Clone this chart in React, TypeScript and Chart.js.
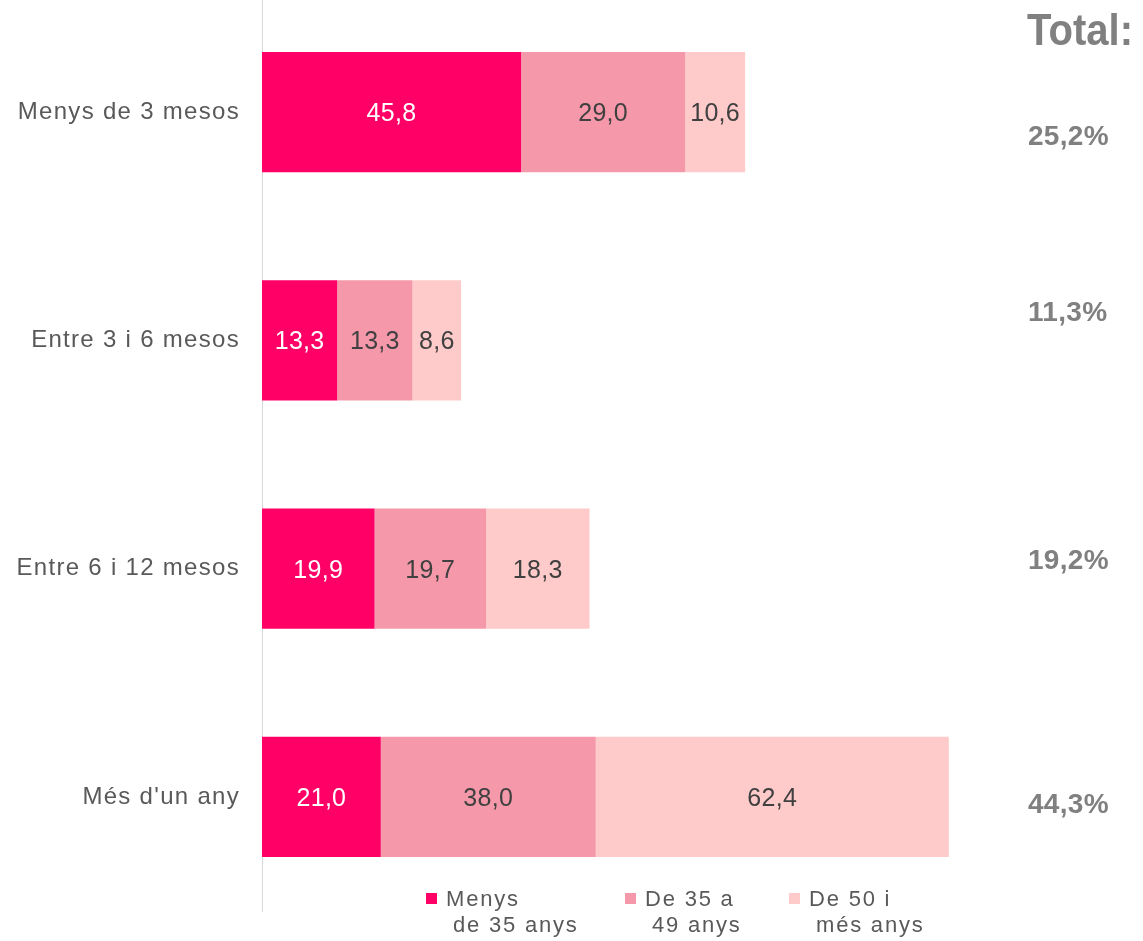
import React, { useEffect, useRef } from "react";
import { Chart, registerables } from "chart.js";

Chart.register(...registerables);

// ---- data ----
const CATEGORIES = ["Menys de 3 mesos", "Entre 3 i 6 mesos", "Entre 6 i 12 mesos", "Més d'un any"];
const SERIES_LABELS = [
  ["Menys", "de 35 anys"],
  ["De 35 a", "49 anys"],
  ["De 50 i", "més anys"],
];
const UNDER_35 = [45.8, 13.3, 19.9, 21.0];
const FROM_35_TO_49 = [29.0, 13.3, 19.7, 38.0];
const FROM_50 = [10.6, 8.6, 18.3, 62.4];
const TOTAL_TITLE = "Total:";
const TOTALS = [25.2, 11.3, 19.2, 44.3];

// ---- styles / layout ----
const COLORS = ["#FF0066", "#F599AA", "#FFCACA"];
const LABEL_COLORS = ["#FFFFFF", "#404040", "#404040"];
const TEXT_GREY = "#595959";
const TOTAL_GREY = "#808080";
const FONT = '"Liberation Sans", Arial, sans-serif';
const TOTAL_Y_OFFSETS = [23, -29, -10, 6];
const LEGEND_X = [426, 625, 789];
const SHIFT = 2; // canvas is placed 2px above the page top

const fmt = (v: number) => v.toFixed(1).replace(".", ",");

const letterSpacingPlugin = {
  id: "letterSpacing",
  beforeDraw(chart: any) {
    chart.ctx.letterSpacing = "1.3px";
  },
  beforeDatasetsDraw(chart: any) {
    chart.ctx.letterSpacing = "0px";
  },
};

const valueLabelsPlugin = {
  id: "valueLabels",
  afterDatasetsDraw(chart: any) {
    const ctx = chart.ctx;
    ctx.save();
    ctx.font = `25px ${FONT}`;
    ctx.letterSpacing = "0.3px";
    ctx.textAlign = "center";
    ctx.textBaseline = "alphabetic";
    chart.data.datasets.forEach((ds: any, di: number) => {
      const meta = chart.getDatasetMeta(di);
      meta.data.forEach((el: any, i: number) => {
        const { x, base, y } = el.getProps(["x", "base", "y"], true);
        ctx.fillStyle = LABEL_COLORS[di];
        ctx.fillText(fmt(ds.data[i]), (x + base) / 2, y + 9);
      });
    });
    ctx.restore();
  },
};

const totalsPlugin = {
  id: "totals",
  afterDraw(chart: any) {
    const ctx = chart.ctx;
    const yScale = chart.scales.y;
    ctx.save();
    ctx.fillStyle = TOTAL_GREY;
    ctx.textAlign = "left";
    ctx.textBaseline = "alphabetic";
    // title
    ctx.save();
    ctx.font = `bold 44px ${FONT}`;
    ctx.translate(1027, 45 + SHIFT);
    ctx.scale(0.91, 1);
    ctx.fillText(TOTAL_TITLE, 0, 0);
    ctx.restore();
    // values
    ctx.font = `bold 28px ${FONT}`;
    ctx.letterSpacing = "0.3px";
    TOTALS.forEach((t, i) => {
      const yc = yScale.getPixelForValue(i) + TOTAL_Y_OFFSETS[i];
      ctx.fillText(fmt(t) + "%", 1028, yc + 10);
    });
    ctx.restore();
  },
};

const legendPlugin = {
  id: "customLegend",
  afterDraw(chart: any) {
    const ctx = chart.ctx;
    ctx.save();
    ctx.font = `22px ${FONT}`;
    ctx.letterSpacing = "1.8px";
    ctx.textAlign = "left";
    ctx.textBaseline = "alphabetic";
    chart.data.datasets.forEach((ds: any, di: number) => {
      const x0 = LEGEND_X[di];
      ctx.fillStyle = ds.backgroundColor;
      ctx.fillRect(x0, 893 + SHIFT, 11, 11);
      ctx.fillStyle = TEXT_GREY;
      const lines = SERIES_LABELS[di];
      ctx.fillText(lines[0], x0 + 20, 905.5 + SHIFT);
      ctx.fillText(lines[1], x0 + 27, 932 + SHIFT);
    });
    ctx.restore();
  },
};

export default function App() {
  const canvasRef = useRef<HTMLCanvasElement | null>(null);

  useEffect(() => {
    if (!canvasRef.current) return;
    const seriesData = [UNDER_35, FROM_35_TO_49, FROM_50];
    const chart = new Chart(canvasRef.current, {
      type: "bar",
      data: {
        labels: CATEGORIES,
        datasets: seriesData.map((d, i) => ({
          label: SERIES_LABELS[i].join(" "),
          data: d,
          backgroundColor: COLORS[i],
          borderWidth: 0,
          categoryPercentage: 0.526,
          barPercentage: 1,
        })),
      },
      options: {
        indexAxis: "y",
        responsive: false,
        animation: false,
        layout: { padding: { top: 0, bottom: 30, left: 0, right: 89 } },
        plugins: {
          legend: { display: false },
          tooltip: { enabled: false },
          title: { display: false },
        },
        scales: {
          x: {
            stacked: true,
            display: false,
            min: 0,
            max: 140,
          },
          y: {
            stacked: true,
            grid: { display: false, drawTicks: false },
            border: { display: true, color: "#D9D9D9", width: 1 },
            ticks: {
              color: TEXT_GREY,
              font: { family: FONT, size: 24 },
              padding: 22,
            },
            afterFit: (scale: any) => {
              scale.width = 262;
              scale.paddingTop = 0;
              scale.paddingBottom = 0;
            },
          },
        },
      },
      plugins: [letterSpacingPlugin, valueLabelsPlugin, totalsPlugin, legendPlugin],
    } as any);
    return () => chart.destroy();
  }, []);

  return (
    <div style={{ position: "fixed", left: 0, top: 0, width: 1143, height: 941, overflow: "hidden", background: "#fff" }}>
      <canvas
        ref={canvasRef}
        width={1143}
        height={943}
        style={{ display: "block", position: "absolute", left: 0, top: -SHIFT }}
      />
    </div>
  );
}
